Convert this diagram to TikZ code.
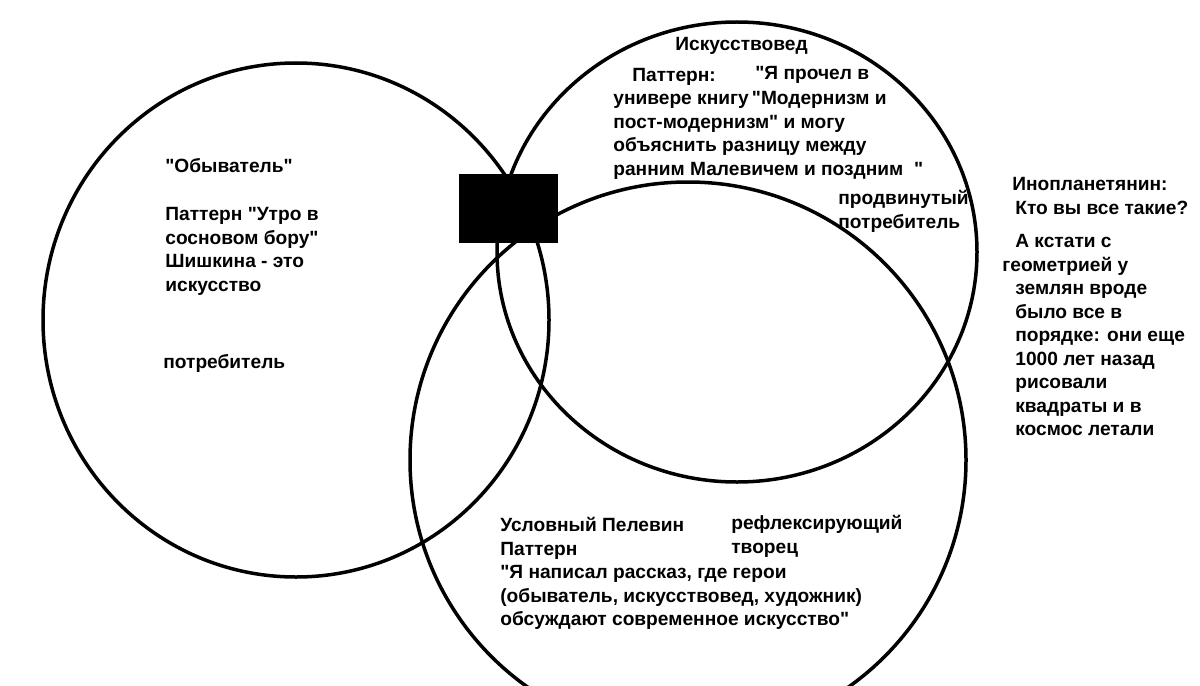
\documentclass[tikz,border=0pt]{standalone}
\usepackage{fontspec}
\setmainfont{Liberation Sans}[Ligatures=TeXOff]
\usetikzlibrary{positioning}

\tikzset{
  krug/.style={line width=0.07cm, black},
  txt/.style={font=\bfseries\fontsize{10.9}{13.4}\selectfont, align=left, inner sep=0pt, anchor=north west},
}

\begin{document}
\begin{tikzpicture}[x=0.02cm, y=-0.02cm]
        \useasboundingbox (0,0) rectangle (1200,686);

        % Круги
        \draw[krug] (296,320) ellipse [x radius=253, y radius=257];
        \draw[krug] (737,252) ellipse [x radius=240, y radius=230];
        \draw[krug] (688,460) circle [radius=278];

        % Квадрат
        \fill[black] (459,174) rectangle (558,243);

        % Обыватель
        \node[txt] (obyv) at (165,158) {"Обыватель"};
        \node[txt] (obyvpat) at (165,207) {Паттерн "Утро в\\сосновом бору"\\Шишкина - это\\искусство};
        \node[txt] (potr) at (163,354) {потребитель};

        % Искусствовед
        \node[txt] (isk) at (675,37) {Искусствовед};
        \node[txt] (iskpat) at (632,68) {Паттерн:};
        \node[txt] (iskquote) at (755,66) {"Я прочел в};
        \node[txt] (isktext) at (613,91) {универе книгу\,"Модернизм и\\пост-модернизм" и могу\\объяснить разницу между\\ранним Малевичем и поздним~~"};
        \node[txt] (prodv) at (838,190) {продвинутый\\потребитель};

        % Инопланетянин
        \node[txt] (inopl) at (1012,177) {Инопланетянин:\\\hspace*{0.06cm}Кто вы все такие?};
        \node[txt] (kstati) at (1015,234) {А кстати с\\\hspace*{-0.26cm}геометрией у\\землян вроде\\было все в\\порядке: они еще\\1000 лет назад\\рисовали\\квадраты и в\\космос летали};

        % Пелевин
        \node[txt] (pelevin) at (500,517) {Условный Пелевин\\Паттерн\\"Я написал рассказ, где герои\\(обыватель, искусствовед, художник)\\обсуждают современное искусство"};
        \node[txt] (refl) at (731,515) {рефлексирующий\\творец};
\end{tikzpicture}
\end{document}
